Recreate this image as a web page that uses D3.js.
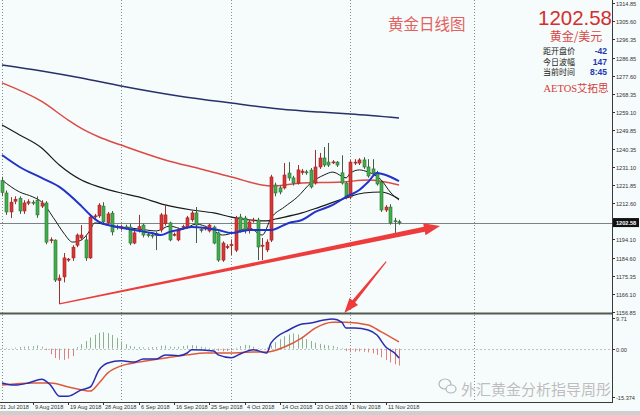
<!DOCTYPE html>
<html><head><meta charset="utf-8">
<script src="https://cdn.jsdelivr.net/npm/d3@7"></script>
<style>html,body{margin:0;padding:0;background:#f6fbfb;} svg{display:block;}</style>
</head><body><svg id="c" width="640" height="415"></svg>
<script>
// ---------------- DATA ----------------
const opens = [1224,1217.7,1208,1213.5,1215,1208.5,1212.5,1213,1214,1211,1212.6,1193.5,1193.6,1173,1174.8,1183.4,1184.5,1191,1194.7,1193.7,1184.5,1205.5,1206,1211,1202.5,1207.4,1200.7,1200,1200.4,1200.3,1192.1,1199,1201.3,1196.4,1196.2,1197,1198.8,1202,1202.4,1196.2,1193.7,1200,1200.3,1204,1207.5,1199,1199.3,1198.3,1200.3,1197.3,1183.4,1190,1191,1188.5,1205.4,1204.9,1198.8,1203.5,1203.9,1190.5,1188.6,1193.6,1221.8,1220.3,1220.3,1227.9,1225.4,1222.8,1228.2,1228.5,1229.4,1222.8,1231,1235.6,1233.5,1233.4,1233.5,1228,1222.8,1215.6,1233,1233,1234.6,1231,1230,1227.9,1223.3,1209,1210.5,1203.5,1203];
const highs = [1226,1219,1215.6,1216,1216,1214,1214.5,1214,1216,1214,1213.5,1195,1194,1176,1187,1184.5,1191,1197,1201.3,1196,1207,1207,1212.5,1213,1208,1208.5,1201.5,1201.5,1201.5,1202,1198.5,1206.5,1202,1197.5,1197,1198,1207.5,1211.5,1203,1197.5,1200,1201.5,1206,1208.5,1210.5,1200,1201,1202,1201,1198,1193,1191.5,1194,1206,1207,1206,1204,1205,1205,1194.7,1194,1227,1223,1221.5,1233,1233.5,1226.5,1232,1230,1229.5,1230.5,1239.7,1238.2,1241.2,1243.3,1234.5,1234,1237,1223.5,1234.5,1235,1235.5,1236,1235,1235,1229,1224,1211.5,1212,1205,1204];
const lows = [1216,1206.5,1204.9,1212,1207,1207,1211.5,1211.5,1205,1210,1191.5,1192,1172.2,1161,1172,1182.5,1183,1190,1193.5,1183,1184,1204.5,1205,1202,1201,1196,1199,1198.5,1199,1191,1191.5,1197.5,1195,1195,1194.5,1188.5,1197.5,1201,1193,1195.5,1193,1199,1199.5,1203,1192.1,1197.5,1198.5,1197.5,1191.5,1182.5,1182.5,1189,1186,1187.5,1197.5,1197,1197,1202.5,1183.4,1183.4,1187.5,1192.6,1216,1217,1219.5,1224,1221.5,1222,1227,1227,1220,1222,1230,1231,1231,1232.5,1231,1222,1214.5,1214.5,1232,1232,1230,1225.5,1227,1221.5,1208,1208,1201.5,1197.3,1201.5];
const closes = [1218,1208,1213,1214.5,1208.5,1212.6,1213.2,1212.5,1206.5,1212.6,1192.6,1193.8,1173.2,1174.2,1184.5,1183.9,1190,1196.2,1196.2,1184.5,1205.4,1206,1211.5,1202.9,1207,1197.8,1200.3,1200.4,1200,1192.1,1197.3,1200.5,1196.2,1196.1,1195.8,1196,1206.5,1206.5,1193.7,1196.6,1198.8,1200.5,1205,1207.5,1201.3,1198.8,1200,1201.3,1192.1,1183.4,1192.1,1190.3,1191.3,1204.9,1198.8,1198.8,1202.9,1203.9,1190.1,1191,1192.6,1225.9,1217.7,1218.2,1226.9,1225.4,1222.8,1229.5,1228.9,1228.2,1220.8,1231,1235.6,1232,1232,1233.6,1232,1222.8,1215.6,1233.5,1233.5,1234.6,1231,1226.4,1227.9,1222.3,1209,1210.5,1202.4,1203.1,1202.58];

const maNavyBars = [0,9,18,27,40,52,63,72,79,90];
const maNavyVals = [1283.2,1280.1,1276.5,1272.4,1267.3,1263.7,1260.7,1259.1,1258.1,1256.1];
const maRedBars = [0,9,15,18,22,27,37,45,52,61,68,77,83,90];
const maRedVals = [1274.0,1264.5,1255.0,1250.7,1246.3,1242.2,1234.6,1230.0,1225.9,1221.3,1222.8,1223.3,1224.3,1221.8];
const maMidBars = [0,4,9,13,18,22,27,31,37,43,48,52,60,62,68,72,78,82,86,90];
const maMidVals = [1252.5,1247.4,1240.7,1232.0,1224.3,1220.8,1217.7,1215.7,1211.6,1209.0,1207.5,1205.4,1203.4,1204.4,1207.5,1210.5,1215.2,1217.7,1218.2,1214.6];
const maBlueBars = [0,4,9,13,18,20,22,25,30,34,36,38,40,43,46,49,52,56,61,65,68,71,75,78,81,83,85,87,90];
const maBlueVals = [1237.1,1231.0,1225.4,1220.8,1211.0,1206.5,1202.9,1200.8,1198.8,1197.2,1196.2,1197.8,1198.8,1200.3,1199.8,1198.8,1197.2,1198.8,1198.8,1202.4,1203.9,1208.0,1211.6,1215.7,1219.2,1223.3,1227.9,1226.9,1223.8];
const maShortBars = [0,4,7,9,12,14,16,18,20,21,24,27,31,35,38,41,44,47,50,53,56,59,61,64,67,70,73,75,78,79,81,83,86,88,90];
const maShortVals = [1224.3,1218.2,1215.7,1213.1,1203.9,1197.2,1192.6,1193.7,1198.8,1202.4,1201.3,1200.3,1199.3,1198.3,1200.8,1199.3,1201.8,1199.8,1196.2,1197.8,1199.8,1196.2,1204.9,1210.5,1215.7,1222.8,1226.9,1228.4,1225.4,1227.9,1229.5,1228.4,1224.3,1218.2,1214.1];

const macdBars = [0,3,6,9,11,13,15,18,20,22,24,27,30,32,35,37,40,42,43,48,49,52,54,57,60,61,65,68,70,73,75,77,78,80,83,85,87,89,90];
const macdVals = [-10.9,-11.6,-10.9,-9.7,-11.6,-15.1,-15.1,-13.1,-12.2,-6.8,-4.6,-3.9,-4.3,-3.3,-3.3,-2.0,-2.3,-1.4,-0.4,-0.8,-2.0,-2.9,-1.7,-0.4,-1.4,1.8,5.9,7.8,8.1,9.1,9.4,8.4,6.5,6.5,5.9,4.3,0.5,-1.4,-3.0];
const signalBars = [0,7,11,15,18,20,22,24,27,31,37,42,46,52,57,60,64,68,71,75,78,83,86,90];
const signalVals = [-11.6,-10.9,-10.9,-12.2,-13.1,-13.5,-10.9,-7.7,-5.5,-4.3,-3.0,-2.0,-1.4,-1.4,-1.1,-1.1,0.5,3.4,6.5,8.4,8.4,7.5,5.3,2.1];
const histVals = [0.3,0.2,0.1,0.3,0.5,0.6,0.7,0.8,1.0,0.6,-0.5,-1.8,-3.0,-3.5,-3.6,-3.2,-2.4,0.5,1.4,2.4,3.5,4.4,5.0,5.2,4.9,4.3,3.4,2.3,1.4,0.8,0.6,0.5,0.4,0.4,0.5,0.5,0.9,1.0,0.6,0.5,0.6,0.8,1.0,1.1,0.9,0.6,0.4,0.2,-0.3,-0.7,-0.9,-0.8,-0.5,0.2,0.8,1.2,1.1,0.6,0.2,0.1,0.3,1.0,2.0,3.0,3.9,4.5,4.8,4.5,3.8,3.0,2.4,1.9,1.5,1.2,1.0,0.8,0.5,0.2,-0.8,-1.2,-1.0,-0.9,-1.0,-1.2,-1.5,-2.0,-2.8,-3.6,-4.4,-5.0,-5.4];

const priceTicks = [1314.85,1305.60,1296.35,1286.85,1277.60,1268.35,1259.10,1249.85,1240.35,1231.10,1221.85,1212.60,1194.10,1184.60,1175.35,1166.10,1156.85];
const macdTicks = [9.71, 0.00, -15.374];
const macdTickLabels = ["9.71","0.00","-15.374"];
const dateTickBars = [-1,7,15,23,31,39,47,55,63,71,79,87];
const dateLabels = ["31 Jul 2018","9 Aug 2018","19 Aug 2018","28 Aug 2018","6 Sep 2018","16 Sep 2018","25 Sep 2018","4 Oct 2018","14 Oct 2018","23 Oct 2018","1 Nov 2018","11 Nov 2018"];
const gridBars = [0,27,52,79,107];
const lastPrice = 1202.58;
const infoRows = [["距开盘价","-42"],["今日波幅","147"],["当前时间","8:45"]];
const trendFrom = {bar:13, price:1161}, trendTo = {bar:99.3, price:1200.8};
const peakArrowFrom = {bar:87.1, price:1182.6}, peakArrowTo = {bar:77.6, price:1156.3};

// ---------------- SCALES ----------------
const svg = d3.select("#c");
const W = 640, H = 415, axisX = 612;
const x = d3.scaleLinear().domain([0, 90]).range([2, 399]);
const y = d3.scaleLinear().domain([1156.85, 1314.85]).range([312, 3]);
const ym = d3.scaleLinear().domain([-15.374, 9.71]).range([397, 318]);

svg.append("rect").attr("width",W).attr("height",H).attr("fill","#f6fbfb");
svg.append("rect").attr("x",0).attr("y",411).attr("width",W).attr("height",4).attr("fill","#cfcfcf");

// grid verticals
svg.append("g").selectAll("line").data(gridBars).join("line")
  .attr("x1",d=>Math.round(x(d))+0.5).attr("x2",d=>Math.round(x(d))+0.5)
  .attr("y1",0).attr("y2",402).attr("stroke","#8a8f8f").attr("stroke-width",1).attr("stroke-dasharray","1,2");

// MACD zero line
svg.append("line").attr("x1",0).attr("x2",axisX).attr("y1",Math.round(ym(0))+0.5).attr("y2",Math.round(ym(0))+0.5)
  .attr("stroke","#b9c4c4").attr("stroke-dasharray","2,2");

// current price line
svg.append("line").attr("x1",0).attr("x2",axisX).attr("y1",Math.round(y(lastPrice))+0.5).attr("y2",Math.round(y(lastPrice))+0.5)
  .attr("stroke","#7d8282").attr("stroke-width",1);

// MA lines
function maLine(bars, vals, color, w){
  const pts = bars.map((b,i)=>[x(b), y(vals[i])]);
  svg.append("path").attr("d", d3.line().curve(d3.curveMonotoneX)(pts))
    .attr("fill","none").attr("stroke",color).attr("stroke-width",w);
}
maLine(maNavyBars, maNavyVals, "#28306a", 1.5);
maLine(maRedBars, maRedVals, "#dc4a44", 1.5);
maLine(maMidBars, maMidVals, "#1a1a1a", 1.2);
maLine(maShortBars, maShortVals, "#1a1a1a", 1.0);

// tapered arrow helper
function arrow(from, to, w0, w1, hw, headLen){
  const x0 = x(from.bar), y0 = y(from.price), x1 = x(to.bar), y1 = y(to.price);
  const dx = x1-x0, dy = y1-y0, L = Math.hypot(dx,dy), ux = dx/L, uy = dy/L, nx = -uy, ny = ux;
  const bx = x1 - ux*headLen, by = y1 - uy*headLen;
  const poly = [[x0+nx*w0,y0+ny*w0],[bx+nx*w1,by+ny*w1],[bx+nx*hw,by+ny*hw],[x1,y1],[bx-nx*hw,by-ny*hw],[bx-nx*w1,by-ny*w1],[x0-nx*w0,y0-ny*w0]];
  svg.append("path").attr("d","M"+poly.map(p=>p.join(",")).join("L")+"Z").attr("fill","#ee3b3b");
}
arrow(trendFrom, trendTo, 0.6, 2.6, 6, 16);

// candles
const candles = svg.append("g");
closes.forEach((c,i)=>{
  const o = opens[i], up = c >= o;
  const cx = Math.round(x(i))+0.5;
  const stroke = up ? "#9e2323" : "#2f6f33";
  candles.append("line").attr("x1",cx).attr("x2",cx).attr("y1",y(highs[i])).attr("y2",y(lows[i])).attr("stroke", up?"#a03030":"#4a5a4a").attr("stroke-width",1);
  const top = y(Math.max(o,c)), bot = y(Math.min(o,c));
  candles.append("rect").attr("x",cx-1.5).attr("y",top).attr("width",3).attr("height",Math.max(1,bot-top))
    .attr("fill", up ? "#d93636" : "#3faf4b").attr("stroke",stroke).attr("stroke-width",0.6);
});

maLine(maBlueBars, maBlueVals, "#2233cc", 2);

// panel separator
svg.append("rect").attr("x",0).attr("y",312.5).attr("width",axisX).attr("height",2).attr("fill","#4f5c50");

// histogram
svg.append("g").selectAll("line").data(histVals).join("line")
  .attr("x1",(d,i)=>Math.round(x(i))+0.5).attr("x2",(d,i)=>Math.round(x(i))+0.5)
  .attr("y1",ym(0)).attr("y2",d=>ym(d))
  .attr("stroke",d=>d>=0?"#8fb08f":"#e07f7f").attr("stroke-width",1);

function mLine(bars, vals, color, w){
  const pts = bars.map((b,i)=>[x(b), ym(vals[i])]);
  svg.append("path").attr("d", d3.line().curve(d3.curveMonotoneX)(pts))
    .attr("fill","none").attr("stroke",color).attr("stroke-width",w);
}
mLine(signalBars, signalVals, "#de5a3c", 1.5);
mLine(macdBars, macdVals, "#2a2db0", 1.5);

// peak arrow
arrow(peakArrowFrom, peakArrowTo, 0.5, 1.8, 5.5, 15);

// bottom axis
svg.append("line").attr("x1",0).attr("x2",axisX).attr("y1",402.5).attr("y2",402.5).attr("stroke","#3a3a3a");
const xa = svg.append("g").attr("font-family","Liberation Sans, Arial, sans-serif").attr("font-size",5.6).attr("fill","#333");
dateTickBars.forEach((b,i)=>{
  const tx = Math.round(x(b))+0.5;
  xa.append("line").attr("x1",tx).attr("x2",tx).attr("y1",402).attr("y2",405).attr("stroke","#333");
  xa.append("text").attr("x",tx+1.5).attr("y",408.5).text(dateLabels[i]);
});

// right axis
svg.append("line").attr("x1",axisX+0.5).attr("x2",axisX+0.5).attr("y1",0).attr("y2",403).attr("stroke","#3a3a3a");
const ya = svg.append("g").attr("font-family","Liberation Sans, Arial, sans-serif").attr("font-size",5.6).attr("fill","#333");
priceTicks.forEach(t=>{
  const ty = Math.round(y(t))+0.5;
  ya.append("line").attr("x1",axisX).attr("x2",axisX+3).attr("y1",ty).attr("y2",ty).attr("stroke","#333");
  ya.append("text").attr("x",axisX+4).attr("y",ty+2).text(t.toFixed(2));
});
macdTicks.forEach((t,i)=>{
  const ty = Math.round(ym(t))+0.5;
  ya.append("line").attr("x1",axisX).attr("x2",axisX+3).attr("y1",ty).attr("y2",ty).attr("stroke","#333");
  ya.append("text").attr("x",axisX+4).attr("y",ty+2).text(macdTickLabels[i]);
});
// price box
const by0 = y(lastPrice);
svg.append("rect").attr("x",axisX+1).attr("y",by0-4.5).attr("width",26).attr("height",9).attr("fill","#111");
svg.append("text").attr("x",axisX+4).attr("y",by0+2).attr("font-family","Liberation Sans, Arial, sans-serif")
  .attr("font-size",5.6).attr("font-weight","bold").attr("fill","#fff").text(lastPrice.toFixed(2));

// title
svg.append("text").attr("x",388).attr("y",30).attr("font-family","Noto Sans CJK SC, sans-serif").attr("font-size",15.5)
  .attr("fill","#e2605e").text("黄金日线图");

// info block
svg.append("text").attr("x",575).attr("y",24.5).attr("text-anchor","middle").attr("font-family","Liberation Sans, Arial, sans-serif")
  .attr("font-size",21).attr("textLength",74).attr("lengthAdjust","spacingAndGlyphs").attr("fill","#d42e2e").text(lastPrice.toFixed(2));
svg.append("text").attr("x",576).attr("y",41).attr("text-anchor","middle").attr("font-family","Noto Sans CJK SC, sans-serif")
  .attr("font-size",12).attr("fill","#d94848").text("黄金/美元");
infoRows.forEach((r,i)=>{
  const ry = 54 + i*10.5;
  svg.append("text").attr("x",543).attr("y",ry).attr("font-family","Noto Sans CJK SC, sans-serif").attr("font-size",8.5)
    .attr("textLength",32).attr("lengthAdjust","spacingAndGlyphs").attr("fill","#222").text(r[0]);
  svg.append("text").attr("x",607).attr("y",ry).attr("text-anchor","end").attr("font-family","Liberation Sans, Arial, sans-serif")
    .attr("font-size",8.5).attr("font-weight","bold").attr("fill","#2236b0").text(r[1]);
});
svg.append("text").attr("x",576).attr("y",92).attr("text-anchor","middle").attr("font-family","Liberation Serif, Noto Sans CJK SC, serif")
  .attr("font-size",10.5).attr("fill","#d43b3b").text("AETOS艾拓思");

// watermark
const wm = svg.append("g").attr("opacity",0.85);
wm.append("ellipse").attr("cx",445).attr("cy",384).attr("rx",6).attr("ry",5).attr("fill","none").attr("stroke","#aaa").attr("stroke-width",1.2);
wm.append("ellipse").attr("cx",451).attr("cy",389).attr("rx",5).attr("ry",4).attr("fill","#f6fbfb").attr("stroke","#aaa").attr("stroke-width",1.2);
wm.append("text").attr("x",461).attr("y",395).attr("font-family","Noto Sans CJK SC, sans-serif").attr("font-size",15)
  .attr("fill","#b3b3b3").attr("stroke","#ffffff").attr("stroke-width",0.6).attr("paint-order","stroke").text("外汇黄金分析指导周彤");
</script></body></html>
